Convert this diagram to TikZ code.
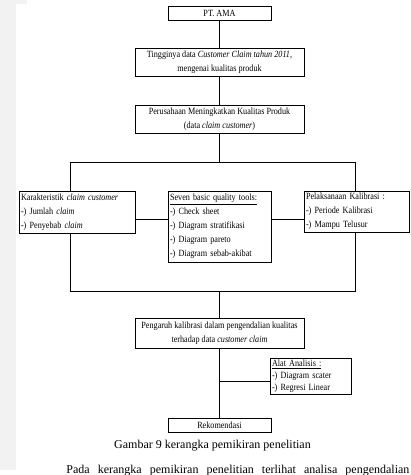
\documentclass[tikz,border=0pt]{standalone}
\usepackage{fontspec}
\setmainfont{Liberation Serif}
\newfontfamily\bx[FakeStretch=0.86]{Liberation Serif}
\begin{document}
\begin{tikzpicture}[x=1pt,y=-1pt,
  line width=0.8pt,
  box/.style={draw, line width=0.8pt, inner xsep=2pt, inner ysep=0pt, align=center,
    font=\bx\fontsize{9.5}{14}\selectfont},
  listbox/.style={box, align=left},
  conn/.style={draw, line width=0.8pt}]
\useasboundingbox (0,0) rectangle (411,475);
\clip (0,0) rectangle (411,475);
\fill[black!5] (0,0) rectangle (16,470);
\fill[black!5] (0,0) rectangle (27,4);
% boxes
\node[box, minimum width=103pt, minimum height=14pt] (pt) at (219.5,13.5) {PT. AMA};
\node[box, minimum width=169pt, minimum height=28pt] (b2) at (219.5,62.5)
  {Tingginya data \textit{Customer Claim tahun 2011,}\\ mengenai kualitas produk};
\node[box, minimum width=169pt, minimum height=28pt] (b3) at (219.5,119.5)
  {Perusahaan Meningkatkan Kualitas Produk\\ (data \textit{claim customer})};
\node[listbox, text width=112pt, minimum height=42pt] (left) at (77,212)
  {Karakteristik \textit{claim customer}\\ -) Jumlah \textit{claim}\\ -) Penyebab \textit{claim}};
\node[listbox, text width=99pt, minimum height=71pt] (mid) at (219.5,226.5)
  {\underline{Seven basic quality tools:}\\ -) Check sheet\\ -) Diagram stratifikasi\\ -) Diagram pareto\\ -) Diagram sebab-akibat};
\node[listbox, text width=101pt, minimum height=41pt] (right) at (356.5,211.5)
  {Pelaksanaan Kalibrasi :\\ -) Periode Kalibrasi\\ -) Mampu Telusur};
\node[box, minimum width=169pt, minimum height=30pt] (pg) at (219.5,333)
  {Pengaruh kalibrasi dalam pengendalian kualitas\\ terhadap data \textit{customer claim}};
\node[listbox, text width=77pt, minimum height=36pt, font=\bx\fontsize{9.5}{12}\selectfont] (alat) at (310.5,376)
  {\underline{Alat Analisis :}\\ -) Diagram scater\\ -) Regresi Linear};
\node[box, minimum width=103pt, minimum height=14pt] (rek) at (219.5,425) {Rekomendasi};
% junction points
\coordinate (bl) at (70,162);
\coordinate (br) at (355,162);
\coordinate (bc) at (219.5,162);
\coordinate (cl) at (70,291);
\coordinate (cr) at (355,291);
\coordinate (cc) at (219.5,291);
\coordinate (mh) at (0,219);
\coordinate (aj) at (219.5,381);
% connectors
\draw[conn] (pt) -- (b2);
\draw[conn] (b2) -- (b3);
\draw[conn] (b3) -- (bc);
\draw[conn] (bl) -- (br);
\draw[conn] (bl) -- (bl |- left.north);
\draw[conn] (br) -- (br |- right.north);
\draw[conn] (left.east |- mh) -- (mid.west |- mh);
\draw[conn] (mid.east |- mh) -- (right.west |- mh);
\draw[conn] (bl |- left.south) -- (cl) -- (cr) -- (br |- right.south);
\draw[conn] (cc) -- (pg);
\draw[conn] (pg) -- (rek);
\draw[conn] (aj) -- (aj -| alat.west);
% caption and body text
\node[anchor=base, inner sep=0pt, font=\fontsize{12}{14}\selectfont] (cap) at (212.5,448)
  {Gambar 9 kerangka pemikiran penelitian};
\node[anchor=base west, inner sep=0pt, font=\fontsize{12}{14}\selectfont] (body) at (66,473)
  {\makebox[343pt][s]{Pada kerangka pemikiran penelitian terlihat analisa pengendalian}};
\end{tikzpicture}
\end{document}
